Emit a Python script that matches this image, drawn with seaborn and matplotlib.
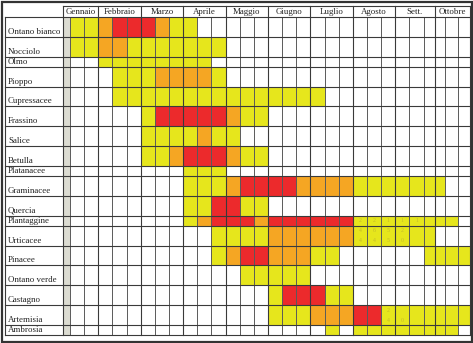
import numpy as np
import pandas as pd
import seaborn as sns
import matplotlib.pyplot as plt
from matplotlib.colors import ListedColormap
from matplotlib.patches import Rectangle

# ---------------- data ----------------
months = ["Gennaio", "Febbraio", "Marzo", "Aprile", "Maggio",
          "Giugno", "Luglio", "Agosto", "Sett.", "Ottobre"]

plants = ["Ontano bianco", "Nocciolo", "Olmo", "Pioppo", "Cupressacee",
          "Frassino", "Salice", "Betulla", "Platanacee", "Graminacee",
          "Quercia", "Plantaggine", "Urticacee", "Pinacee", "Ontano verde",
          "Castagno", "Artemisia", "Ambrosia"]

# intensity per 10-day period (0 none, 1 low, 2 medium, 3 high), Jan 2nd decade .. Oct
levels = [
    "11233321100000000000000000000",  # Ontano bianco
    "11221111111000000000000000000",  # Nocciolo
    "00111111110000000000000000000",  # Olmo
    "00011122221000000000000000000",  # Pioppo
    "00011111111111111100000000000",  # Cupressacee
    "00000133333211000000000000000",  # Frassino
    "00000111121100000000000000000",  # Salice
    "00000112333211000000000000000",  # Betulla
    "00000000111000000000000000000",  # Platanacee
    "00000000111233332222111111100",  # Graminacee
    "00000000113311000000000000000",  # Quercia
    "00000000123332333333111111110",  # Plantaggine
    "00000000001111222222111111000",  # Urticacee
    "00000000001233222110000001111",  # Pinacee
    "00000000000011111000000000000",  # Ontano verde
    "00000000000000133311000000000",  # Castagno
    "00000000000000111222331111111",  # Artemisia
    "00000000000000000010111111110",  # Ambrosia
]

# faint numbers printed in some cells: (plant, sub-line, period index, text)
notes = [
    ("Plantaggine", 0, 20, "2"), ("Plantaggine", 0, 21, "2"),
    ("Plantaggine", 0, 22, "1"), ("Plantaggine", 0, 23, "1"),
    ("Plantaggine", 0, 24, "1"),
    ("Urticacee", 0, 20, "4"), ("Urticacee", 0, 21, "6"),
    ("Urticacee", 0, 22, "5"), ("Urticacee", 0, 23, "2"),
    ("Urticacee", 1, 20, "4"), ("Urticacee", 1, 21, "4"),
    ("Urticacee", 1, 22, "5"), ("Urticacee", 1, 23, "0"),
    ("Artemisia", 0, 22, "2"),
    ("Artemisia", 1, 22, "4"), ("Artemisia", 1, 23, "0"),
]

# ---------------- layout ----------------
row_units = [2, 2, 1, 2, 2, 2, 2, 2, 1, 2, 2, 1, 2, 2, 2, 2, 2, 1]
col_units = [7] + [14] * 25 + [11, 10, 13, 12]   # first = grey separator column

YELLOW = "#e6e61c"
ORANGE = "#f5a623"
RED = "#ec2a2c"
GREY = "#dcdcd2"
cmap = ListedColormap(["#ffffff", YELLOW, ORANGE, RED, GREY])

mat = np.array([[4] + [int(ch) for ch in s] for s in levels])
big = np.repeat(np.repeat(mat, row_units, axis=0), col_units, axis=1)
df = pd.DataFrame(big)

W, H = 473, 343
fig = plt.figure(figsize=(W / 100, H / 100), dpi=100)
gx0, gx1, gy0, gy1 = 63, 470, 17, 335
ax = fig.add_axes([gx0 / W, 1 - gy1 / H, (gx1 - gx0) / W, (gy1 - gy0) / H])

sns.heatmap(df, ax=ax, cmap=cmap, vmin=-0.5, vmax=4.5, cbar=False,
            xticklabels=False, yticklabels=False)
ax.set_xlabel("")
ax.set_ylabel("")

tw = sum(col_units)
th = sum(row_units)
pxx = (gx1 - gx0) / tw
pxy = (gy1 - gy0) / th
xlab = -(gx0 - 5) / pxx
hdr = -11 / pxy

col_edges = np.concatenate([[0], np.cumsum(col_units)])
row_edges = np.concatenate([[0], np.cumsum(row_units)])

LINE = "#3a3a3a"
VLINE = "#5a5a5a"
# vertical lines
for j, x in enumerate(col_edges):
    if j % 3 == 0:
        ax.plot([x, x], [hdr, th], color=LINE, lw=0.8, clip_on=False)
    else:
        ax.plot([x, x], [0, th], color=VLINE, lw=0.7, clip_on=False)
# horizontal lines
for y in row_edges:
    ax.plot([xlab, tw], [y, y], color=LINE, lw=0.8, clip_on=False)
ax.plot([0, tw], [hdr, hdr], color=LINE, lw=0.8, clip_on=False)
ax.plot([xlab, xlab], [0, th], color=LINE, lw=0.8, clip_on=False)

serif = ["Liberation Serif", "DejaVu Serif"]
for m, name in enumerate(months):
    xc = (col_edges[3 * m] + col_edges[3 * m + 3]) / 2
    ax.text(xc, hdr / 2, name, ha="center", va="center", fontsize=6.4,
            family=serif, color="#222222", clip_on=False)

for i, name in enumerate(plants):
    ax.text(xlab + 3 / pxx, row_edges[i + 1] - 0.5, name, ha="left", va="center",
            fontsize=6.4, family=serif, color="#222222", clip_on=False)

for plant, sub, per, txt in notes:
    i = plants.index(plant)
    j = per + 1
    xc = (col_edges[j] + col_edges[j + 1]) / 2
    yc = row_edges[i] + sub + 0.5
    ax.text(xc, yc, txt, ha="center", va="center", fontsize=4.2,
            family=serif, color="#c4bc2a", clip_on=False)

ax.axis("off")
fig.patches.append(Rectangle((1.5 / W, 1.5 / H), (W - 3) / W, (H - 3) / H,
                             transform=fig.transFigure, fill=False,
                             edgecolor="#333333", lw=1.6))
fig.savefig("out.png", dpi=100)
